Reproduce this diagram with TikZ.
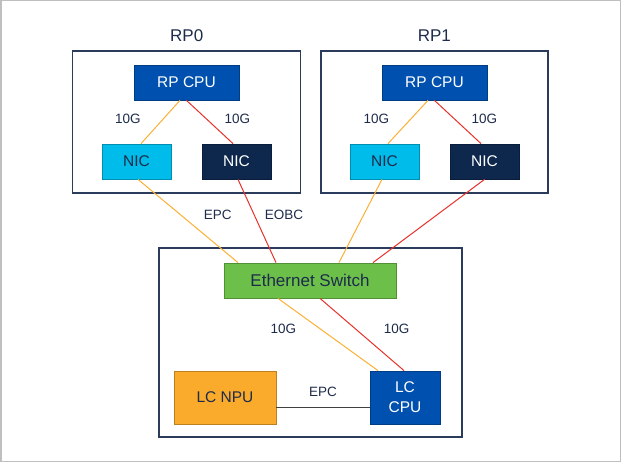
\documentclass[tikz,border=0pt]{standalone}
\usepackage{fontspec}
\setmainfont{Liberation Sans}
\usepackage{xcolor}
\usetikzlibrary{positioning}

\definecolor{cpublue}{HTML}{0051AF}
\definecolor{niccyan}{HTML}{00BCEB}
\definecolor{nicnavy}{HTML}{0D274D}
\definecolor{swgreen}{HTML}{6CC04A}
\definecolor{npuorange}{HTML}{FBAB2C}
\definecolor{txtnavy}{HTML}{1E2B4A}
\definecolor{framenavy}{HTML}{2B3B5C}
\definecolor{linkred}{HTML}{E8312A}
\definecolor{linkyellow}{HTML}{FBB034}

\begin{document}
\begin{tikzpicture}[x=1pt, y=-1pt,
  chip/.style={draw=#1!75!black, fill=#1, line width=0.8pt, inner sep=0pt,
    minimum height=35pt, font=\fontsize{15.5}{18}\selectfont},
  group/.style={draw=framenavy, line width=1.2pt, inner sep=0pt},
  grouplabel/.style={font=\fontsize{17}{20}\selectfont, text=txtnavy, label distance=5pt},
  speed/.style={font=\fontsize{13.5}{16}\selectfont, text=txtnavy},
  epclink/.style={draw=linkyellow, line width=1pt},
  eobclink/.style={draw=linkred, line width=1pt},
  plainlink/.style={draw=black!75, line width=1pt}]

\useasboundingbox (0,0) rectangle (621,462);
\draw[black!25, line width=1.5pt] (0.75,0.75) rectangle (620.25,461.25);

% route processors
\node[group, minimum width=228, minimum height=142, label={[grouplabel]above:RP0}] (rp0) at (186.7,122) {};
\node[group, minimum width=227, minimum height=142, label={[grouplabel]above:RP1}] (rp1) at (434.4,122) {};
\node[group, minimum width=303, minimum height=189] (lc) at (310.5,342.5) {};

\node[chip=cpublue, text=white, minimum width=105] (rp0cpu) at (186.5,82.5) {RP CPU};
\node[chip=niccyan, text=txtnavy, minimum width=69] (rp0nica) at (136.5,161.5) {NIC};
\node[chip=nicnavy, text=white, minimum width=69] (rp0nicb) at (236.5,161.5) {NIC};

\node[chip=cpublue, text=white, minimum width=105] (rp1cpu) at (434.5,82.5) {RP CPU};
\node[chip=niccyan, text=txtnavy, minimum width=69] (rp1nica) at (384.5,161.5) {NIC};
\node[chip=nicnavy, text=white, minimum width=69] (rp1nicb) at (484.5,161.5) {NIC};

% line card
\node[chip=swgreen, text=txtnavy, minimum width=172, font=\fontsize{17}{20}\selectfont] (switch) at (310,280.5) {Ethernet Switch};
\node[chip=npuorange, text=txtnavy, minimum width=102, minimum height=53] (lcnpu) at (225,397.5) {LC NPU};
\node[chip=cpublue, text=white, minimum width=70, minimum height=53, align=center,
  font=\fontsize{15.5}{20}\selectfont] (lccpu) at (405,397.5) {LC\\CPU};

% links inside RP0 and RP1
\draw[epclink] ([xshift=-6.5pt]rp0cpu.south) -- ([xshift=4.5pt]rp0nica.north)
    node[midway, left=16pt, yshift=3pt, speed] {10G};
\draw[eobclink] (rp0cpu.south) -- ([xshift=-3.5pt]rp0nicb.north)
    node[midway, right=11pt, yshift=3pt, speed] {10G};
\draw[epclink] ([xshift=-6.5pt]rp1cpu.south) -- ([xshift=3.5pt]rp1nica.north)
    node[midway, left=15pt, yshift=3pt, speed] {10G};
\draw[eobclink] (rp1cpu.south) -- ([xshift=-3.5pt]rp1nicb.north)
    node[midway, right=10pt, yshift=3pt, speed] {10G};

% links to the switch
\draw[epclink] ([xshift=1.5pt]rp0nica.south) -- ([xshift=-72pt]switch.north)
    node[midway, right=12pt, yshift=6pt, speed] {EPC};
\draw[eobclink] ([xshift=1.5pt]rp0nicb.south) -- ([xshift=-34pt]switch.north)
    node[midway, right=4pt, yshift=6pt, speed] {EOBC};
\draw[epclink] ([xshift=-2.5pt]rp1nica.south) -- ([xshift=29pt]switch.north);
\draw[eobclink] (rp1nicb.south) -- ([xshift=63pt]switch.north);

\draw[epclink] ([xshift=-32pt]switch.south) -- ([xshift=-27pt]lccpu.north)
    node[midway, left=28pt, yshift=5.5pt, speed] {10G};
\draw[eobclink] ([xshift=10pt]switch.south) -- ([xshift=-1pt]lccpu.north)
    node[midway, right=18pt, yshift=5.5pt, speed] {10G};
\draw[plainlink] ([yshift=-9.5pt]lcnpu.east) -- ([yshift=-9.5pt]lccpu.west)
    node[midway, above=7pt, speed] {EPC};

\end{tikzpicture}
\end{document}
